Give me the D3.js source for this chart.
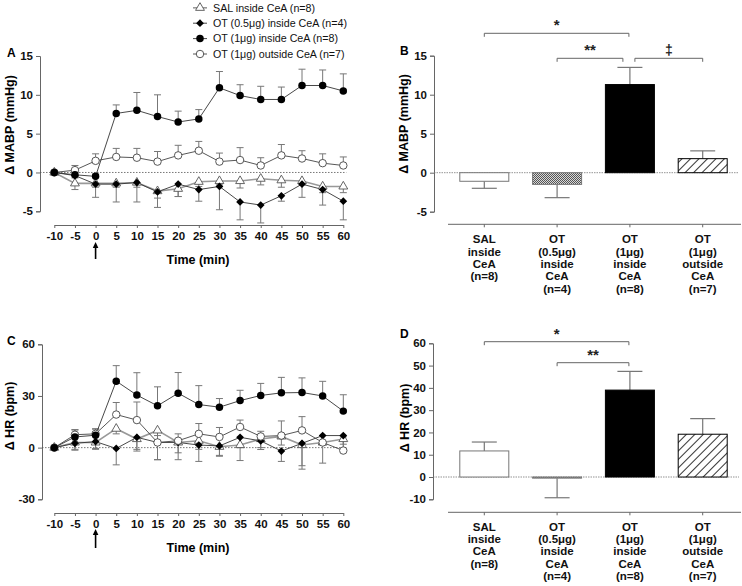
<!DOCTYPE html>
<html><head><meta charset="utf-8">
<script src="https://cdn.jsdelivr.net/npm/d3@7"></script>
<style>body{margin:0;background:#fff}svg{display:block}text{font-family:Arial,"Liberation Sans",sans-serif}</style>
</head><body>
<svg id="c" width="742" height="586"></svg>
<script>
// ---------- data ----------
const time = [-10,-5,0,5,10,15,20,25,30,35,40,45,50,55,60];
const timeTicks = [-10,-5,0,5,10,15,20,25,30,35,40,45,50,55,60];
const seriesNames = ["SAL inside CeA (n=8)","OT (0.5\u03bcg) inside CeA (n=4)","OT (1\u03bcg) inside CeA (n=8)","OT (1\u03bcg) outside CeA (n=7)"];
// MABP (panel A)
const salMABP     = [0,-1.4,-1.4,-1.4,-1.3,-2.4,-2.1,-1.2,-1.1,-1.1,-0.8,-1.0,-1.1,-1.8,-1.8];
const salMABPErr  = [0,0.8,0.5,0.5,0.6,0.9,1.0,0.6,0.5,0.9,0.8,0.9,0.5,0.8,0.8];
const ot05MABP    = [0,-0.4,-1.5,-1.5,-1.3,-2.5,-1.5,-2.2,-1.8,-3.8,-4.2,-3.0,-1.5,-2.2,-3.7];
const ot05MABPErr = [0,0.3,1.7,2.3,2.5,2.0,1.6,1.5,3.0,2.3,2.3,0.7,1.7,2.0,2.4];
const ot1inMABP   = [0,-0.3,-0.5,7.6,8.0,7.2,6.5,6.9,10.9,9.9,9.4,9.4,11.2,11.2,10.5];
const ot1inMABPErr= [0,0.3,0.3,1.1,2.3,2.8,1.4,1.2,2.1,1.4,1.7,1.6,2.1,2.0,2.2];
const ot1outMABP  = [0,0.3,1.5,2.0,1.9,1.4,2.2,2.8,1.4,1.6,0.9,2.2,1.8,1.2,0.9];
const ot1outMABPErr=[0,0.6,0.9,1.1,1.2,1.3,1.3,1.2,1.1,1.6,1.0,1.4,1.0,1.2,1.1];
// HR (panel C)
const salHR       = [0,3,3,11,5,10,3,4,0.5,1.5,5,6.5,1.5,3,5];
const salHRErr    = [0,4,4,3,6,17,6,5,5,9,5,5,12,12,6];
const ot05HR      = [0,2.5,3.5,-0.5,6,3,3,1.5,1,6,3.9,-2,2.5,7,7];
const ot05HRErr   = [0,4,4,9.5,8,10,10,9.5,6,6,5,6,15,3.5,5];
const ot1inHR     = [0,6.2,7.2,38.6,30.5,24.3,31.6,25,23.5,27.3,30.3,31.8,32,30,21.2];
const ot1inHRErr  = [0,4,3.5,9,13,11,12,11,5,6,7,9,8.5,8.5,9.5];
const ot1outHR    = [0,7.5,8,19.2,16,3,4,8,6.2,12,6.5,7,10,3,-1.7];
const ot1outHRErr = [0,3,3,7,10.5,4,4,6,5.5,4,3,8.5,8,4,8];
// bar panels
const barCats = ["SAL","OT05","OT1in","OT1out"];
const barLabels = [["SAL","inside","CeA","(n=8)"],["OT","(0.5\u03bcg)","inside","CeA","(n=4)"],["OT","(1\u03bcg)","inside","CeA","(n=8)"],["OT","(1\u03bcg)","outside","CeA","(n=7)"]];
const mabpBar    = [-1.1,-1.5,11.3,1.8];
const mabpBarErr = [0.9,1.7,2.2,1.0];
const hrBar      = [11.7,-0.5,39,19.2];
const hrBarErr   = [4,8.8,8.4,7];
const mabpTicks = [-5,0,5,10,15];
const hrTicksC = [-30,0,30,60];
const hrTicksD = [-10,0,10,20,30,40,50,60];

// ---------- drawing ----------
const svg = d3.select("#c");
const AX = "#666", ERR = "#777";
const fmt = d => String(d);
const defs = svg.append("defs");
const dots = defs.append("pattern").attr("id","dots").attr("patternUnits","userSpaceOnUse").attr("width",2).attr("height",2);
dots.append("rect").attr("width",2).attr("height",2).attr("fill","#d8d8d8");
dots.append("rect").attr("width",1).attr("height",1).attr("fill","#555");
dots.append("rect").attr("x",1).attr("y",1).attr("width",1).attr("height",1).attr("fill","#555");
const hatch = defs.append("pattern").attr("id","hatch").attr("patternUnits","userSpaceOnUse").attr("width",6).attr("height",6).attr("patternTransform","rotate(45)");
hatch.append("rect").attr("width",6).attr("height",6).attr("fill","#fff");
hatch.append("line").attr("x1",0).attr("y1",0).attr("x2",0).attr("y2",6).attr("stroke","#000").attr("stroke-width",1.6);

const sym = {
  tri: d3.symbol().type(d3.symbolTriangle).size(34),
  sq: d3.symbol().type(d3.symbolSquare).size(30),
  circ: d3.symbol().type(d3.symbolCircle).size(44)
};
function drawMarker(g, type, x, y){
  if(type==="tri") g.append("path").attr("d",sym.tri()).attr("transform",`translate(${x},${y})`).attr("fill","#fff").attr("stroke","#555").attr("stroke-width",0.9);
  if(type==="dia") g.append("path").attr("d",sym.sq()).attr("transform",`translate(${x},${y}) rotate(45)`).attr("fill","#000");
  if(type==="fc") g.append("path").attr("d",sym.circ()).attr("transform",`translate(${x},${y})`).attr("fill","#000");
  if(type==="oc") g.append("path").attr("d",sym.circ()).attr("transform",`translate(${x},${y})`).attr("fill","#fff").attr("stroke","#444").attr("stroke-width",0.9);
}
const types = ["tri","dia","fc","oc"];
const lineCols = ["#999","#333","#333","#444"];
const lineW = [1.6,0.9,0.9,0.9];

// legend
const legY = [7.8,23.2,38.6,54];
seriesNames.forEach((n,i)=>{
  const g = svg.append("g");
  g.append("line").attr("x1",193).attr("x2",207).attr("y1",legY[i]).attr("y2",legY[i]).attr("stroke",lineCols[i]).attr("stroke-width",lineW[i]);
  drawMarker(g, types[i], 200, legY[i]);
  g.append("text").attr("x",213).attr("y",legY[i]).attr("dy","0.35em").attr("font-size",10.7).attr("fill","#111").text(n);
});

function linePanel(cfg){
  const g = svg.append("g");
  const x = d3.scaleLinear().domain([-10,60]).range([54.3,343.3]);
  const y = d3.scaleLinear().domain(cfg.ydom).range(cfg.yrange);
  const ya = g.append("g").attr("transform",`translate(${cfg.yAxisX},0)`).call(d3.axisLeft(y).tickValues(cfg.yticks).tickFormat(fmt).tickSize(4).tickPadding(3));
  ya.select(".domain").attr("stroke",AX);
  ya.selectAll(".tick line").attr("stroke",AX);
  ya.selectAll("text").attr("font-size",11.5).attr("font-weight","bold").attr("fill","#111");
  const xa = g.append("g").attr("transform",`translate(0,${cfg.xAxisY})`).call(d3.axisBottom(x).tickValues(timeTicks).tickFormat(fmt).tickSize(3).tickPadding(4).tickSizeOuter(0));
  xa.select(".domain").attr("stroke",AX);
  xa.selectAll(".tick line").attr("stroke",AX);
  xa.selectAll("text").attr("font-size",11.5).attr("font-weight","bold").attr("fill","#111");
  g.append("line").attr("x1",cfg.yAxisX).attr("x2",x(60)+3).attr("y1",y(0)).attr("y2",y(0)).attr("stroke","#555").attr("stroke-dasharray","1.5,1.5").attr("stroke-width",0.8);
  cfg.series.forEach((s)=>{
    const pts = time.map((t,k)=>({t, v:s.v[k], e:s.e[k]}));
    pts.forEach(p=>{
      if(p.e<=0) return;
      const end = p.v + s.dir*p.e;
      g.append("line").attr("x1",x(p.t)).attr("x2",x(p.t)).attr("y1",y(p.v)).attr("y2",y(end)).attr("stroke",ERR).attr("stroke-width",1);
      g.append("line").attr("x1",x(p.t)-3.5).attr("x2",x(p.t)+3.5).attr("y1",y(end)).attr("y2",y(end)).attr("stroke",ERR).attr("stroke-width",1);
    });
    g.append("path").datum(pts).attr("d",d3.line().x(d=>x(d.t)).y(d=>y(d.v))).attr("fill","none").attr("stroke",lineCols[s.idx]).attr("stroke-width",lineW[s.idx]);
  });
  cfg.series.forEach(s=>{
    time.forEach((t,k)=>drawMarker(g, types[s.idx], x(t), y(s.v[k])));
  });
  g.append("text").attr("x",cfg.panelX).attr("y",cfg.panelY).attr("font-size",12).attr("font-weight","bold").text(cfg.panel);
  g.append("text").attr("transform",`translate(${cfg.ylabX},${cfg.ylabY}) rotate(-90)`).attr("text-anchor","middle").attr("dy","0.35em").attr("font-size",12.5).attr("font-weight","bold").text(cfg.ylab);
  g.append("text").attr("x",198).attr("y",cfg.xlabY).attr("text-anchor","middle").attr("dy","0.35em").attr("font-size",12.5).attr("font-weight","bold").text("Time (min)");
  const ax0 = x(0);
  g.append("line").attr("x1",ax0).attr("x2",ax0).attr("y1",cfg.arrowY[0]+4).attr("y2",cfg.arrowY[1]).attr("stroke","#000").attr("stroke-width",1.6);
  g.append("path").attr("d",`M${ax0-2.8},${cfg.arrowY[0]+6} L${ax0},${cfg.arrowY[0]} L${ax0+2.8},${cfg.arrowY[0]+6} Z`).attr("fill","#000");
}

linePanel({ydom:[-5,15], yrange:[211.3,56], yticks:mabpTicks, yAxisX:40, xAxisY:225,
  panel:"A", panelX:7, panelY:57, ylab:"\u0394 MABP (mmHg)", ylabX:10, ylabY:125, xlabY:260, arrowY:[242,259],
  series:[{idx:0,v:salMABP,e:salMABPErr,dir:-1},{idx:1,v:ot05MABP,e:ot05MABPErr,dir:-1},{idx:3,v:ot1outMABP,e:ot1outMABPErr,dir:1},{idx:2,v:ot1inMABP,e:ot1inMABPErr,dir:1}]});
linePanel({ydom:[-30,60], yrange:[499.3,344.3], yticks:hrTicksC, yAxisX:42, xAxisY:513,
  panel:"C", panelX:7, panelY:345, ylab:"\u0394 HR (bpm)", ylabX:10, ylabY:416, xlabY:548, arrowY:[529,548],
  series:[{idx:0,v:salHR,e:salHRErr,dir:-1},{idx:1,v:ot05HR,e:ot05HRErr,dir:-1},{idx:3,v:ot1outHR,e:ot1outHRErr,dir:1},{idx:2,v:ot1inHR,e:ot1inHRErr,dir:1}]});

function barPanel(cfg){
  const g = svg.append("g");
  const x = d3.scalePoint().domain(barCats).range([484.3,702.7]);
  const bw = 49;
  const y = d3.scaleLinear().domain(cfg.ydom).range(cfg.yrange);
  const ya = g.append("g").attr("transform",`translate(${cfg.yAxisX},0)`).call(d3.axisLeft(y).tickValues(cfg.yticks).tickFormat(fmt).tickSize(4).tickPadding(3));
  ya.select(".domain").attr("stroke",AX);
  ya.selectAll(".tick line").attr("stroke",AX);
  ya.selectAll("text").attr("font-size",11.5).attr("font-weight","bold").attr("fill","#111");
  g.append("line").attr("x1",448).attr("x2",741).attr("y1",cfg.xAxisY).attr("y2",cfg.xAxisY).attr("stroke",AX);
  barCats.forEach((c,i)=>{
    g.append("line").attr("x1",x(c)).attr("x2",x(c)).attr("y1",cfg.xAxisY).attr("y2",cfg.xAxisY+3).attr("stroke",AX);
    const t = g.append("text").attr("text-anchor","middle").attr("font-size",11.5).attr("font-weight","bold").attr("fill","#111");
    barLabels[i].forEach((l,j)=>t.append("tspan").attr("x",x(c)).attr("y",cfg.labY + j*12.3).attr("dy","0.35em").text(l));
  });
  g.append("line").attr("x1",cfg.yAxisX).attr("x2",739).attr("y1",y(0)).attr("y2",y(0)).attr("stroke","#777").attr("stroke-dasharray","1.5,1").attr("stroke-width",0.8);
  const fills = ["#fff","url(#dots)","#000","url(#hatch)"];
  const strokes = ["#777","#777","#000","#000"];
  cfg.vals.forEach((v,i)=>{
    const c = barCats[i];
    const dir = v>=0?1:-1;
    const end = v + dir*cfg.errs[i];
    g.append("line").attr("x1",x(c)).attr("x2",x(c)).attr("y1",y(v)).attr("y2",y(end)).attr("stroke",ERR).attr("stroke-width",1.2);
    g.append("line").attr("x1",x(c)-12.5).attr("x2",x(c)+12.5).attr("y1",y(end)).attr("y2",y(end)).attr("stroke",ERR).attr("stroke-width",1.2);
    g.append("rect").attr("x",x(c)-bw/2).attr("width",bw).attr("y",Math.min(y(v),y(0))).attr("height",Math.abs(y(v)-y(0))).attr("fill",fills[i]).attr("stroke",strokes[i]).attr("stroke-width",1);
  });
  cfg.brackets.forEach(b=>{
    const x1 = x(barCats[b.a]) + (b.da||0), x2 = x(barCats[b.b]) + (b.db||0);
    g.append("path").attr("d",`M${x1},${b.y+3.5} L${x1},${b.y} L${x2},${b.y} L${x2},${b.y+3.5}`).attr("fill","none").attr("stroke","#666").attr("stroke-width",1);
    g.append("text").attr("x",(x1+x2)/2).attr("y",b.y-3).attr("text-anchor","middle").attr("font-size",b.fs||15).attr("font-weight","bold").attr("fill","#222").text(b.t);
  });
  g.append("text").attr("x",cfg.panelX).attr("y",cfg.panelY).attr("font-size",12).attr("font-weight","bold").text(cfg.panel);
  g.append("text").attr("transform",`translate(${cfg.ylabX},${cfg.ylabY}) rotate(-90)`).attr("text-anchor","middle").attr("dy","0.35em").attr("font-size",12.5).attr("font-weight","bold").text(cfg.ylab);
}

barPanel({ydom:[-5,15], yrange:[211.7,55.7], yticks:mabpTicks, yAxisX:434, xAxisY:224.3, labY:239.3,
  vals:mabpBar, errs:mabpBarErr, panel:"B", panelX:400, panelY:55, ylab:"\u0394 MABP (mmHg)", ylabX:404, ylabY:124,
  brackets:[{a:0,b:2,y:33.3,t:"*",da:0,db:-1},{a:1,b:2,y:58.3,t:"**",db:-7},{a:2,b:3,y:58.3,t:"\u2021",da:5,fs:14}]});
barPanel({ydom:[-10,60], yrange:[499.3,343.3], yticks:hrTicksD, yAxisX:433, xAxisY:512.3, labY:526.7,
  vals:hrBar, errs:hrBarErr, panel:"D", panelX:400, panelY:338, ylab:"\u0394 HR (bpm)", ylabX:405, ylabY:418,
  brackets:[{a:0,b:2,y:341.7,t:"*",db:-1},{a:1,b:2,y:362.7,t:"**",db:-1}]});
</script>
</body></html>
